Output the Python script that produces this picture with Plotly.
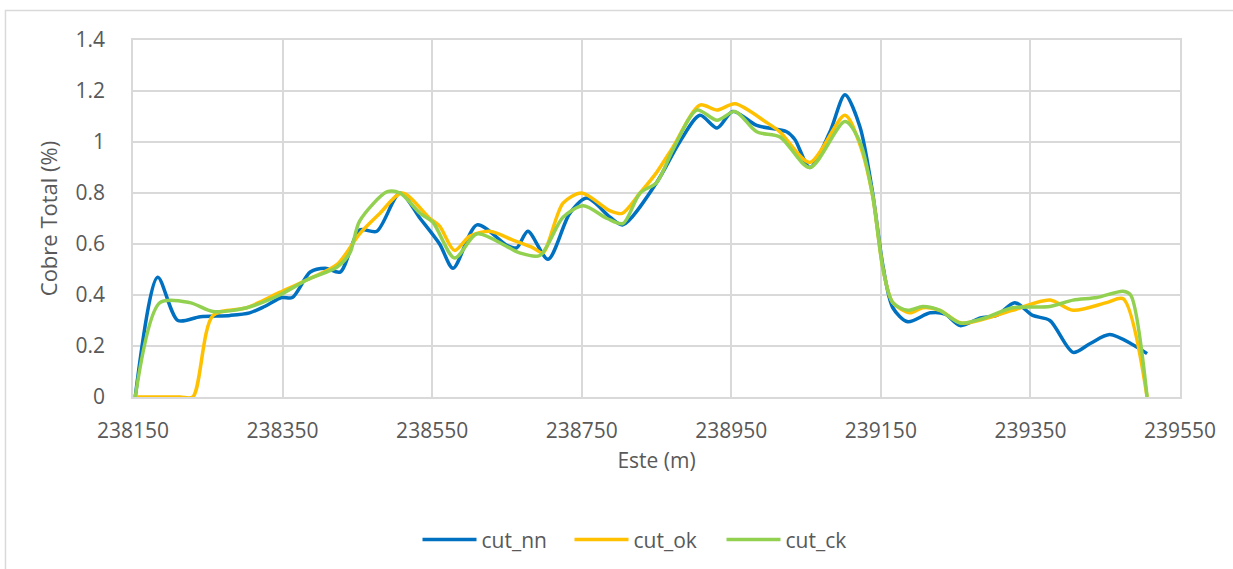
import plotly.graph_objects as go

# Este (m) and Cobre Total (%) values
x_nn = [238153, 238183, 238210, 238240, 238280, 238306, 238326, 238349, 238363, 238387,
        238407, 238427, 238453, 238476, 238507, 238534, 238560, 238578, 238610, 238650,
        238663, 238678, 238705, 238734, 238757, 238788, 238805, 238850, 238881, 238908,
        238931, 238952, 238984, 239024, 239035, 239055, 239082, 239102, 239122, 239139,
        239153, 239166, 239186, 239216, 239236, 239256, 239283, 239305, 239329, 239353,
        239376, 239407, 239430, 239456, 239487, 239506]
cut_nn = [0.0, 0.47, 0.30, 0.315, 0.32, 0.33, 0.355, 0.39, 0.39, 0.49,
          0.505, 0.49, 0.655, 0.65, 0.80, 0.70, 0.60, 0.505, 0.675, 0.595,
          0.585, 0.65, 0.54, 0.72, 0.78, 0.705, 0.675, 0.84, 1.0, 1.105,
          1.055, 1.12, 1.065, 1.04, 1.01, 0.90, 1.04, 1.185, 1.06, 0.80,
          0.51, 0.35, 0.295, 0.33, 0.325, 0.28, 0.31, 0.32, 0.37, 0.32,
          0.30, 0.175, 0.21, 0.245, 0.205, 0.17]

x_ok = [238150, 238186, 238213, 238230, 238257, 238302, 238346, 238383, 238423, 238453,
        238480, 238510, 238547, 238560, 238580, 238600, 238627, 238658, 238685, 238698,
        238725, 238750, 238788, 238804, 238828, 238850, 238872, 238908, 238931, 238955,
        238998, 239015, 239055, 239102, 239122, 239139, 239153, 239166, 239189, 239206,
        239229, 239258, 239326, 239376, 239407, 239452, 239474, 239506]
cut_ok = [0.0, 0.0, 0.0, 0.0, 0.32, 0.35, 0.41, 0.46, 0.52, 0.64,
          0.72, 0.80, 0.70, 0.67, 0.575, 0.63, 0.65, 0.615, 0.585, 0.565,
          0.76, 0.80, 0.73, 0.72, 0.80, 0.88, 0.98, 1.145, 1.125, 1.15,
          1.075, 1.04, 0.92, 1.105, 0.99, 0.79, 0.50, 0.37, 0.33, 0.35,
          0.34, 0.29, 0.34, 0.38, 0.34, 0.37, 0.385, 0.0]

x_ck = [238153, 238186, 238226, 238257, 238302, 238346, 238383, 238423, 238440, 238453,
        238490, 238507, 238534, 238551, 238580, 238610, 238650, 238667, 238694, 238725,
        238752, 238784, 238805, 238828, 238850, 238872, 238904, 238931, 238955, 238984,
        239015, 239055, 239102, 239122, 239139, 239153, 239166, 239186, 239206, 239229,
        239256, 239289, 239326, 239376, 239407, 239439, 239474, 239484, 239506]
cut_ck = [0.0, 0.37, 0.37, 0.335, 0.35, 0.40, 0.46, 0.51, 0.565, 0.69,
          0.805, 0.80, 0.72, 0.685, 0.545, 0.64, 0.59, 0.565, 0.555, 0.705,
          0.75, 0.70, 0.68, 0.80, 0.84, 0.97, 1.125, 1.085, 1.12, 1.04,
          1.02, 0.90, 1.08, 1.0, 0.79, 0.50, 0.37, 0.34, 0.355, 0.34,
          0.29, 0.31, 0.35, 0.355, 0.38, 0.39, 0.415, 0.40, 0.0]

FONT = "Open Sans"
TXT = "#595959"
GRID = "#d9d9d9"
FS = 21

fig = go.Figure()
for name, xs, ys, col in [("cut_nn", x_nn, cut_nn, "#0070C0"),
                          ("cut_ok", x_ok, cut_ok, "#FFC000"),
                          ("cut_ck", x_ck, cut_ck, "#92D050")]:
    fig.add_trace(go.Scatter(x=xs, y=ys, name=name, mode="lines",
                             line=dict(color=col, width=3.5, shape="spline", smoothing=0.8)))

fig.update_layout(
    width=1233, height=569,
    margin=dict(l=133, r=53, t=40, b=172, autoexpand=False),
    paper_bgcolor="white", plot_bgcolor="white",
    font=dict(family=FONT, size=FS, color=TXT),
    showlegend=True,
    legend=dict(orientation="h", x=0.4895, xanchor="center", y=-0.40, yanchor="middle",
                font=dict(size=FS, color=TXT), itemwidth=54, entrywidth=83,
                entrywidthmode="pixels", tracegroupgap=0),
    shapes=[dict(type="rect", xref="paper", yref="paper", x0=-0.1218, x1=1.2,
                 y0=-0.7, y1=1.0826, line=dict(color=GRID, width=1.5), layer="below")],
)
fig.update_xaxes(range=[238150, 239550], dtick=200, tick0=238150, showgrid=True,
                 gridcolor=GRID, gridwidth=1.5, showline=True, linecolor=GRID, linewidth=1.5,
                 mirror=True, zeroline=False, ticks="", ticklabelstandoff=14,
                 tickfont=dict(size=FS, color=TXT), tickformat="d",
                 title=dict(text="Este (m)", standoff=10, font=dict(size=FS, color=TXT)))
fig.update_yaxes(range=[0, 1.4], dtick=0.2, showgrid=True, gridcolor=GRID, gridwidth=1.5,
                 showline=True, linecolor=GRID, linewidth=1.5, mirror=True, zeroline=False,
                 ticks="", ticklabelstandoff=22, tickfont=dict(size=FS, color=TXT),
                 title=dict(text="Cobre Total (%)", standoff=12, font=dict(size=FS + 1, color=TXT)))

fig.write_html("out.html")
